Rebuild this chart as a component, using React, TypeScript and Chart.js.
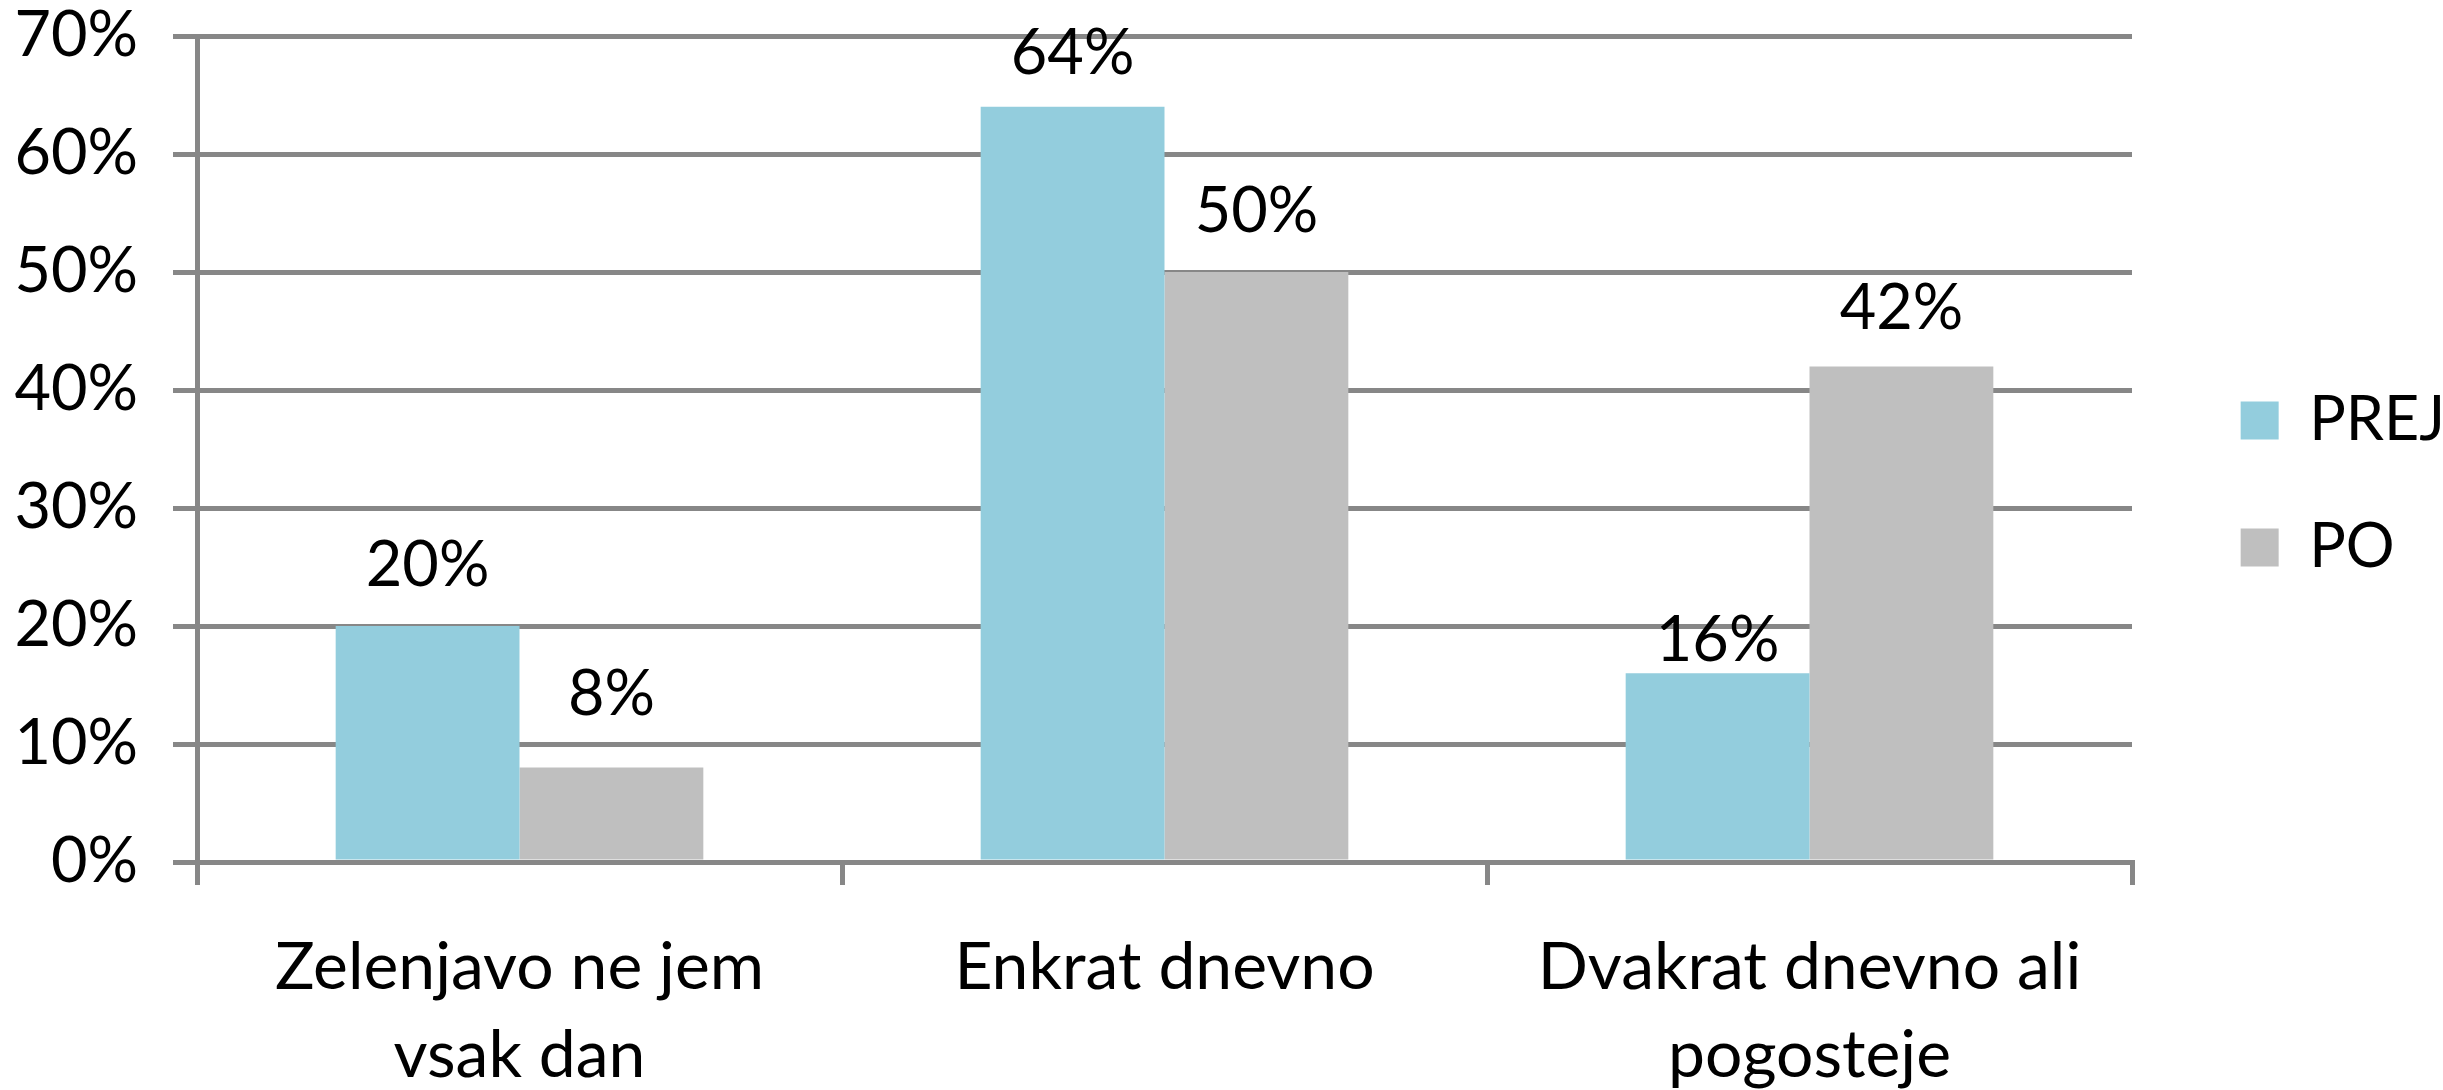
import React, { useEffect, useRef } from 'react';
import { Chart, registerables } from 'chart.js';

Chart.register(...registerables);

// ---- data ----
const CATEGORIES: string[][] = [
  ['Zelenjavo ne jem', 'vsak dan'],
  ['Enkrat dnevno'],
  ['Dvakrat dnevno ali', 'pogosteje'],
];
const SERIES_NAMES: string[] = ['PREJ', 'PO'];
const PREJ_VALUES: number[] = [20, 64, 16];
const PO_VALUES: number[] = [8, 50, 42];
const Y_MIN = 0;
const Y_MAX = 70;
const Y_STEP = 10;

// ---- style ----
const W = 2443;
const H = 1090;
const FONT = 'Lato';
const GRID = '#878787';
const COLORS = ['#93CDDD', '#BFBFBF'];
const LABEL_GAPS = [
  [40, 33, 12],
  [53, 40, 37],
];
const PLOT_RIGHT = 2132;
const PLOT_BOTTOM = 862;
const LEG_FONT = 61;
const LEG_BOX = 38;
const LEG_PAD = 66;
const PAD_RIGHT = -12;

const valueLabels = {
  id: 'valueLabels',
  afterDatasetsDraw(chart: any) {
    const { ctx } = chart;
    ctx.save();
    ctx.font = `63px ${FONT}`;
    ctx.fillStyle = '#000';
    ctx.textAlign = 'center';
    ctx.textBaseline = 'alphabetic';
    chart.data.datasets.forEach((ds: any, di: number) => {
      const meta = chart.getDatasetMeta(di);
      meta.data.forEach((el: any, i: number) => {
        const v = ds.data[i] as number;
        ctx.fillText(`${Math.round(v)}%`, el.x, el.y - LABEL_GAPS[di][i]);
      });
    });
    ctx.restore();
  },
};

export default function App() {
  const ref = useRef<HTMLCanvasElement | null>(null);

  useEffect(() => {
    if (!ref.current) return;
    const chart = new Chart(ref.current, {
      type: 'bar',
      data: {
        labels: CATEGORIES,
        datasets: [
          {
            label: SERIES_NAMES[0],
            data: PREJ_VALUES,
            backgroundColor: COLORS[0],
            borderWidth: 0,
            yAxisID: 'y',
          },
          {
            label: SERIES_NAMES[1],
            data: PO_VALUES,
            backgroundColor: COLORS[1],
            borderWidth: 0,
            yAxisID: 'y',
          },
        ],
      },
      options: {
        responsive: false,
        devicePixelRatio: 1,
        animation: false,
        layout: { padding: { top: 36, left: 0, right: PAD_RIGHT, bottom: 0 } },
        datasets: {
          bar: { categoryPercentage: 0.57, barPercentage: 1.0 },
        },
        scales: {
          x: {
            type: 'category',
            offset: true,
            z: 1,
            grid: {
              display: true,
              drawOnChartArea: false,
              drawTicks: true,
              tickLength: 23,
              color: GRID,
              lineWidth: 5,
              offset: true,
            },
            border: { display: true, color: GRID, width: 5 },
            ticks: {
              font: { family: FONT, size: 66, lineHeight: 1.333 },
              color: '#000',
              padding: 39,
              autoSkip: false,
              maxRotation: 0,
              minRotation: 0,
            },
            afterFit: (s: any) => {
              s.height = H - PLOT_BOTTOM;
              s.paddingLeft = 0;
              s.paddingRight = 0;
            },
          },
          y: {
            type: 'linear',
            min: Y_MIN,
            max: Y_MAX,
            grid: {
              color: GRID,
              lineWidth: 5,
              tickLength: 24,
              drawTicks: true,
            },
            border: { display: true, color: GRID, width: 5 },
            ticks: {
              stepSize: Y_STEP,
              font: { family: FONT, size: 63 },
              color: '#000',
              padding: 35,
              callback: (v: any) => `${v}%`,
            },
            afterFit: (s: any) => {
              s.width = 197;
              s.paddingTop = 36;
              s.paddingBottom = 0;
            },
          },
          yPad: {
            type: 'linear',
            axis: 'y',
            position: 'right',
            display: true,
            grid: { display: false, drawTicks: false },
            border: { display: false },
            ticks: { display: false },
            afterFit: (s: any) => {
              const ctx = s.ctx;
              ctx.save();
              ctx.font = `${LEG_FONT}px ${FONT}`;
              const tw = Math.max(...SERIES_NAMES.map((n) => ctx.measureText(n).width));
              ctx.restore();
              const legendW = LEG_PAD + LEG_BOX + LEG_FONT / 2 + tw + 10;
              s.width = Math.max(0, W - PAD_RIGHT - legendW - PLOT_RIGHT);
              s.paddingTop = 0;
              s.paddingBottom = 0;
            },
          },
        } as any,
        plugins: {
          legend: {
            display: true,
            position: 'right',
            fullSize: false,
            align: 'center',
            title: {
              display: true,
              text: '',
              font: { size: 10, lineHeight: 1.2 },
              padding: { top: 0, bottom: 58 },
            },
            labels: {
              boxWidth: LEG_BOX,
              boxHeight: LEG_BOX,
              font: { family: FONT, size: LEG_FONT },
              color: '#000',
              padding: LEG_PAD,
            },
          },
          tooltip: { enabled: false },
        },
      } as any,
      plugins: [valueLabels],
    });
    return () => chart.destroy();
  }, []);

  return (
    <div style={{ position: 'fixed', left: 0, top: 0, width: W, height: H, background: '#fff' }}>
      <canvas ref={ref} width={W} height={H} style={{ display: 'block', width: W, height: H }} />
    </div>
  );
}
